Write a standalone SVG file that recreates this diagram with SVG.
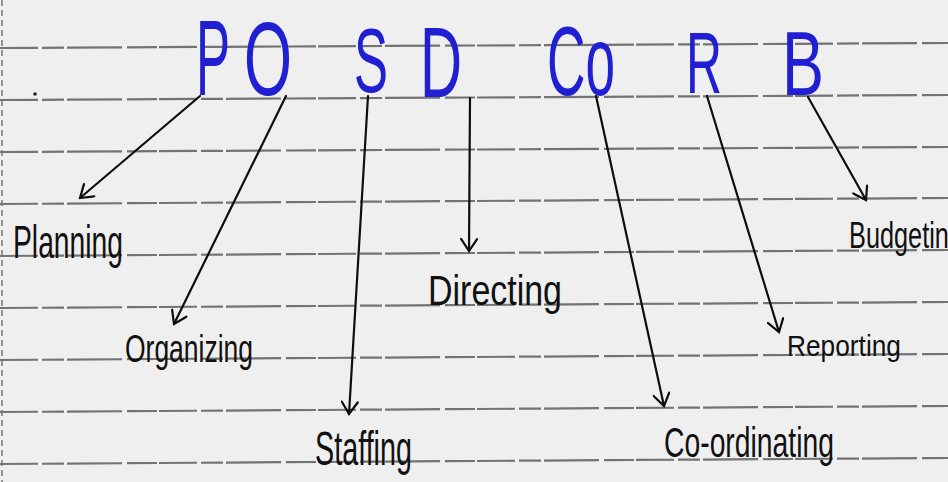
<svg xmlns="http://www.w3.org/2000/svg" width="948" height="482" viewBox="0 0 948 482">
<defs>
<style>
.rule{stroke:#4a4a4a;stroke-width:2.2;stroke-dasharray:38 4 22 3 55 5 30 2;opacity:0.75;fill:none}
.big{font-family:"Liberation Sans",Arial,sans-serif;fill:#2020d2;}
.lbl{font-family:"Liberation Sans",Arial,sans-serif;fill:#111;}
.conn{stroke:#0d0d0d;stroke-width:2.2;fill:none;stroke-linecap:round}
</style>
<marker id="ah" viewBox="-14 -9 16 18" markerWidth="16" markerHeight="18" refX="0" refY="0" orient="auto" markerUnits="userSpaceOnUse">
<path d="M-12,-8 L0,0 L-12,8" fill="none" stroke="#0d0d0d" stroke-width="2.2" stroke-linecap="round"/>
</marker>
</defs>
<rect width="948" height="482" fill="#efefef"/>
<g id="paper">
<line class="rule" x1="0" y1="48" x2="948" y2="43"/>
<line class="rule" x1="0" y1="100" x2="948" y2="95"/>
<line class="rule" x1="0" y1="152" x2="948" y2="147"/>
<line class="rule" x1="0" y1="204" x2="948" y2="198"/>
<line class="rule" x1="0" y1="256" x2="948" y2="250"/>
<line class="rule" x1="0" y1="308" x2="948" y2="302"/>
<line class="rule" x1="0" y1="360" x2="948" y2="354"/>
<line class="rule" x1="0" y1="412" x2="948" y2="406"/>
<line class="rule" x1="0" y1="464" x2="948" y2="458"/>
<line x1="2" y1="0" x2="2" y2="482" stroke="#777" stroke-width="1.5" stroke-dasharray="6 4"/>
<circle cx="35" cy="94" r="1.8" fill="#222"/>
</g>
<g id="letters">
<text id="P" class="big" x="196" y="95" font-size="107" textLength="34" lengthAdjust="spacingAndGlyphs">P</text>
<text id="O" class="big" x="244" y="95" font-size="103" textLength="48" lengthAdjust="spacingAndGlyphs">O</text>
<text id="S" class="big" x="354" y="92" font-size="90" textLength="34" lengthAdjust="spacingAndGlyphs">S</text>
<text id="D" class="big" x="420" y="97" font-size="100" textLength="42" lengthAdjust="spacingAndGlyphs">D</text>
<text id="Co" class="big" x="547" y="95" font-size="98" textLength="68" lengthAdjust="spacingAndGlyphs">Co</text>
<text id="R" class="big" x="686" y="93" font-size="88" textLength="36" lengthAdjust="spacingAndGlyphs">R</text>
<text id="B" class="big" x="782" y="95" font-size="91" textLength="42" lengthAdjust="spacingAndGlyphs">B</text>
</g>
<g id="connectors">
<line class="conn" x1="200" y1="96" x2="80" y2="198" marker-end="url(#ah)"/>
<line class="conn" x1="286" y1="96" x2="174" y2="324" marker-end="url(#ah)"/>
<line class="conn" x1="368" y1="96" x2="349" y2="414" marker-end="url(#ah)"/>
<line class="conn" x1="470" y1="98" x2="469" y2="251" marker-end="url(#ah)"/>
<line class="conn" x1="596" y1="96" x2="664" y2="406" marker-end="url(#ah)"/>
<line class="conn" x1="707" y1="96" x2="779" y2="332" marker-end="url(#ah)"/>
<line class="conn" x1="808" y1="97" x2="866" y2="200" marker-end="url(#ah)"/>
</g>
<g id="planning"><text class="lbl" x="13" y="258" font-size="46" textLength="110" lengthAdjust="spacingAndGlyphs">Planning</text></g>
<g id="organizing"><text class="lbl" x="125" y="362" font-size="38" textLength="128" lengthAdjust="spacingAndGlyphs">Organizing</text></g>
<g id="staffing"><text class="lbl" x="315" y="465" font-size="48" textLength="97" lengthAdjust="spacingAndGlyphs">Staffing</text></g>
<g id="directing"><text class="lbl" x="428" y="305" font-size="42" textLength="134" lengthAdjust="spacingAndGlyphs">Directing</text></g>
<g id="coordinating"><text class="lbl" x="664" y="457" font-size="42" textLength="170" lengthAdjust="spacingAndGlyphs">Co-ordinating</text></g>
<g id="reporting"><text class="lbl" x="787" y="356" font-size="29" textLength="114" lengthAdjust="spacingAndGlyphs">Reporting</text></g>
<g id="budgeting"><text class="lbl" x="849" y="248" font-size="37" textLength="114" lengthAdjust="spacingAndGlyphs">Budgeting</text></g>
</svg>
